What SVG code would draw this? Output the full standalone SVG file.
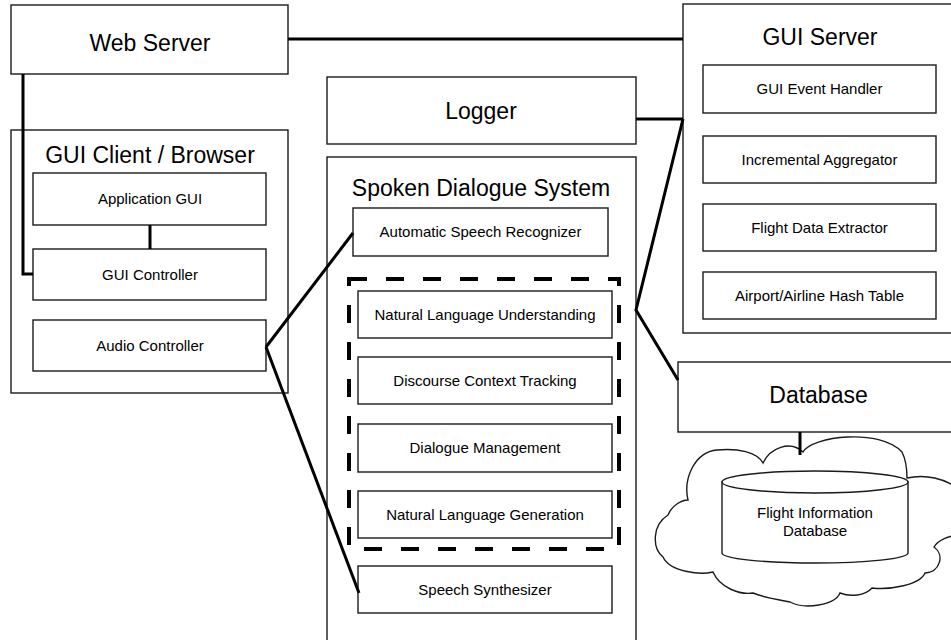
<svg xmlns="http://www.w3.org/2000/svg" width="951" height="640" viewBox="0 0 951 640">
<style>
.box{fill:#fff;stroke:#1a1a1a;stroke-width:1.4}
.big{font-family:"Liberation Sans",Arial,sans-serif;font-size:23px;fill:#000;text-anchor:middle}
.sm{font-family:"Liberation Sans",Arial,sans-serif;font-size:15px;fill:#000;text-anchor:middle}
.con{fill:none;stroke:#000;stroke-width:3;stroke-linejoin:miter}
.dash{fill:none;stroke:#000;stroke-width:4;stroke-dasharray:18 19}
</style>
<rect width="951" height="640" fill="#fff"/>
<g id="web-server">
<rect class="box" x="11" y="5" width="277" height="69"/>
<text class="big" x="150" y="51">Web Server</text>
</g>
<g id="gui-client">
<rect class="box" x="11" y="130" width="277" height="263"/>
<text class="big" x="150" y="163">GUI Client / Browser</text>
</g>
<g id="application-gui">
<rect class="box" x="33" y="173" width="233" height="52"/>
<text class="sm" x="150" y="204">Application GUI</text>
</g>
<g id="gui-controller">
<rect class="box" x="33" y="249" width="233" height="51"/>
<text class="sm" x="150" y="280">GUI Controller</text>
</g>
<g id="audio-controller">
<rect class="box" x="33" y="320" width="233" height="51"/>
<text class="sm" x="150" y="351">Audio Controller</text>
</g>
<g id="logger">
<rect class="box" x="327" y="77" width="309" height="67"/>
<text class="big" x="481" y="119">Logger</text>
</g>
<g id="spoken-dialogue-system">
<rect class="box" x="327" y="157" width="309" height="500"/>
<text class="big" x="481" y="196">Spoken Dialogue System</text>
</g>
<g id="asr">
<rect class="box" x="353" y="208" width="255" height="48"/>
<text class="sm" x="480.5" y="237">Automatic Speech Recognizer</text>
</g>
<g id="dialogue-core">
<rect class="dash" x="349" y="279" width="270" height="270"/>
</g>
<g id="nlu">
<rect class="box" x="358" y="291" width="254" height="47"/>
<text class="sm" x="485" y="320">Natural Language Understanding</text>
</g>
<g id="dct">
<rect class="box" x="358" y="357" width="254" height="47"/>
<text class="sm" x="485" y="386">Discourse Context Tracking</text>
</g>
<g id="dm">
<rect class="box" x="358" y="424" width="254" height="48"/>
<text class="sm" x="485" y="453">Dialogue Management</text>
</g>
<g id="nlg">
<rect class="box" x="358" y="491" width="254" height="47"/>
<text class="sm" x="485" y="520">Natural Language Generation</text>
</g>
<g id="speech-synthesizer">
<rect class="box" x="358" y="566" width="254" height="47"/>
<text class="sm" x="485" y="595">Speech Synthesizer</text>
</g>
<g id="gui-server">
<rect class="box" x="683" y="4" width="274" height="329"/>
<text class="big" x="820" y="45">GUI Server</text>
</g>
<g id="gui-event-handler">
<rect class="box" x="703" y="65" width="233" height="48"/>
<text class="sm" x="819.5" y="94">GUI Event Handler</text>
</g>
<g id="incremental-aggregator">
<rect class="box" x="703" y="136" width="233" height="47"/>
<text class="sm" x="819.5" y="165">Incremental Aggregator</text>
</g>
<g id="flight-data-extractor">
<rect class="box" x="703" y="204" width="233" height="47"/>
<text class="sm" x="819.5" y="233">Flight Data Extractor</text>
</g>
<g id="hash-table">
<rect class="box" x="703" y="272" width="233" height="47"/>
<text class="sm" x="819.5" y="301">Airport/Airline Hash Table</text>
</g>
<g id="database">
<rect class="box" x="678" y="362" width="281" height="70"/>
<text class="big" x="818.5" y="403">Database</text>
</g>
<g id="cloud">
<path class="box" d="M 688,500 C 683,478 695,452 717,450 C 738,448 757,452 763,463 C 770,448 790,440 803,452 C 812,436 880,428 902,452 C 907,462 907,472 907,478 C 925,474 945,478 960,490 L 960,535 C 950,535 938,540 934,547 C 945,555 940,572 925,573 C 920,585 890,590 872,588 C 865,596 850,597 840,593 C 835,605 805,610 790,602 C 780,600 765,598 753,593 C 740,595 720,588 713,572 C 700,575 670,572 663,557 C 652,548 652,525 668,515 C 672,505 682,500 688,500 Z"/>
</g>
<g id="flight-information-database">
<path class="box" d="M 722,482 L 722,553 A 93,10 0 0 0 908,553 L 908,482 Z"/>
<ellipse class="box" cx="815" cy="482" rx="93" ry="11"/>
<text class="sm" x="815" y="518">Flight Information</text>
<text class="sm" x="815" y="536">Database</text>
</g>
<g id="connectors">
<line class="con" x1="288" y1="39" x2="683" y2="39"/>
<polyline class="con" points="23,74 23,274 33,274"/>
<line class="con" x1="150" y1="225" x2="150" y2="249"/>
<line class="con" x1="266" y1="347" x2="353" y2="233"/>
<line class="con" x1="266" y1="347" x2="359" y2="593"/>
<line class="con" x1="636" y1="119" x2="683" y2="119"/>
<polyline class="con" points="683,119 636,310 678,380"/>
<line class="con" x1="800" y1="432" x2="800" y2="455" stroke-width="4"/>
</g>
</svg>
